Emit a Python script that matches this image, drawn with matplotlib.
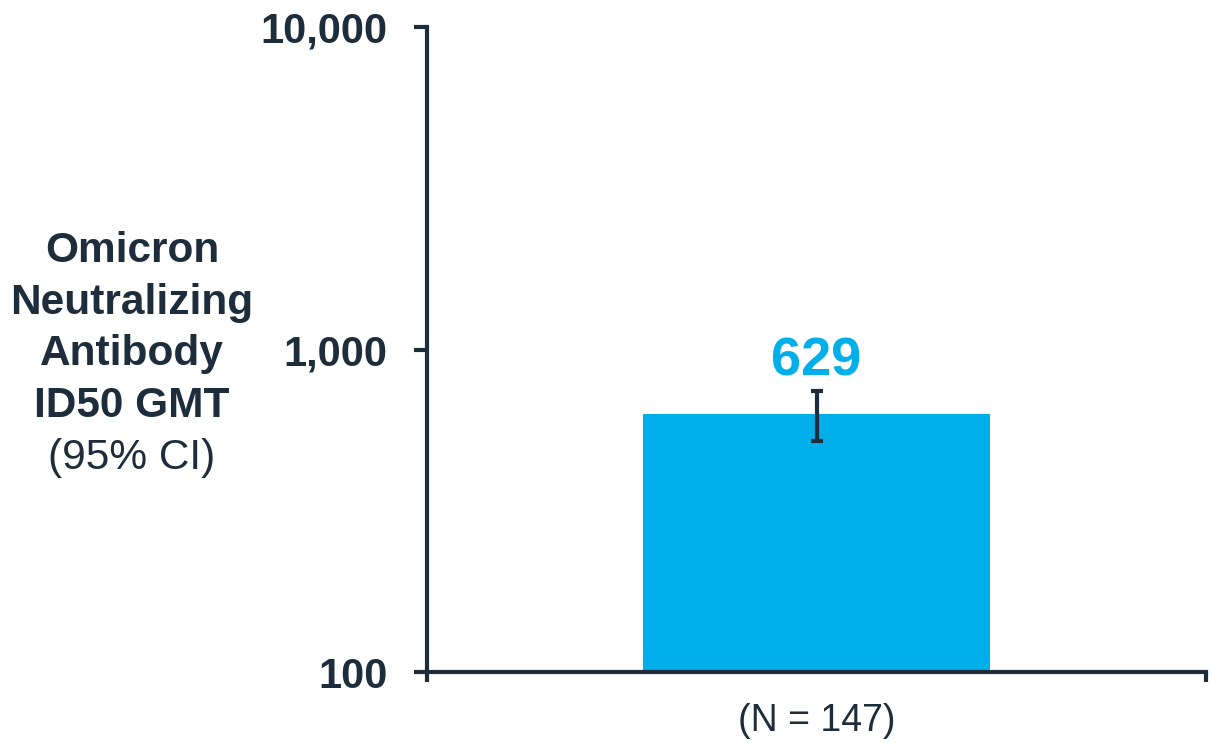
import matplotlib
matplotlib.use("Agg")
import matplotlib.pyplot as plt
import numpy as np

plt.rcParams["font.family"] = ["Liberation Sans", "DejaVu Sans"]

navy = "#1e2d3b"
blue = "#00afe9"

# GMT with 95% CI
groups = ["(N = 147)"]
gmt = [629]
ci_low = [521]
ci_high = [745]
yticks = [100, 1000, 10000]
ytick_labels = ["100", "1,000", "10,000"]

fig = plt.figure(figsize=(12.14, 7.45), dpi=100)
ax = fig.add_axes([427 / 1214, 1 - 672 / 745, (1206 - 427) / 1214, (672 - 27) / 745])

x = np.array([0.5])
gmt_arr = np.array(gmt)
yerr = [gmt_arr - np.array(ci_low), np.array(ci_high) - gmt_arr]

ax.bar(x, gmt, width=0.445, color=blue, zorder=2)
ax.errorbar(x, gmt, yerr=yerr, fmt="none", ecolor=navy, elinewidth=3,
            capsize=4.5, capthick=3, zorder=3)

for xi, g, hi in zip(x, gmt, ci_high):
    ax.annotate(f"{g}", (xi, hi), xytext=(0, 11), textcoords="offset points",
                ha="center", va="baseline", color=blue, fontsize=39,
                fontweight="bold")

ax.set_yscale("log")
ax.set_ylim(100, 10000)
ax.set_xlim(0, 1)
ax.set_yticks(yticks)
ax.set_yticklabels(ytick_labels)
ax.yaxis.set_minor_locator(matplotlib.ticker.NullLocator())
ax.tick_params(axis="y", direction="out", length=9.5, width=3, color=navy,
               labelsize=30, labelcolor=navy, pad=19)
for lbl in ax.get_yticklabels():
    lbl.set_fontweight("bold")

ax.set_xticks(x)
ax.set_xticklabels(groups)
ax.set_xticks([0, 1], minor=True)
ax.tick_params(axis="x", which="major", length=0, labelsize=27,
               labelcolor=navy, pad=22)
ax.tick_params(axis="x", which="minor", direction="out", length=7, width=3,
               color=navy)

for side in ["top", "right"]:
    ax.spines[side].set_visible(False)
for side in ["left", "bottom"]:
    ax.spines[side].set_linewidth(3)
    ax.spines[side].set_color(navy)

# y axis title, one line per row
title_lines = ["Omicron", "Neutralizing", "Antibody", "ID50 GMT"]
baselines = [262, 314, 365, 417]
for line, yb in zip(title_lines, baselines):
    fig.text(132 / 1214, 1 - yb / 745, line, ha="center", va="baseline",
             fontsize=30.5, fontweight="bold", color=navy)
fig.text(132 / 1214, 1 - 469 / 745, "(95% CI)", ha="center", va="baseline",
         fontsize=30.5, color=navy)

fig.savefig("out.png", dpi=100)
